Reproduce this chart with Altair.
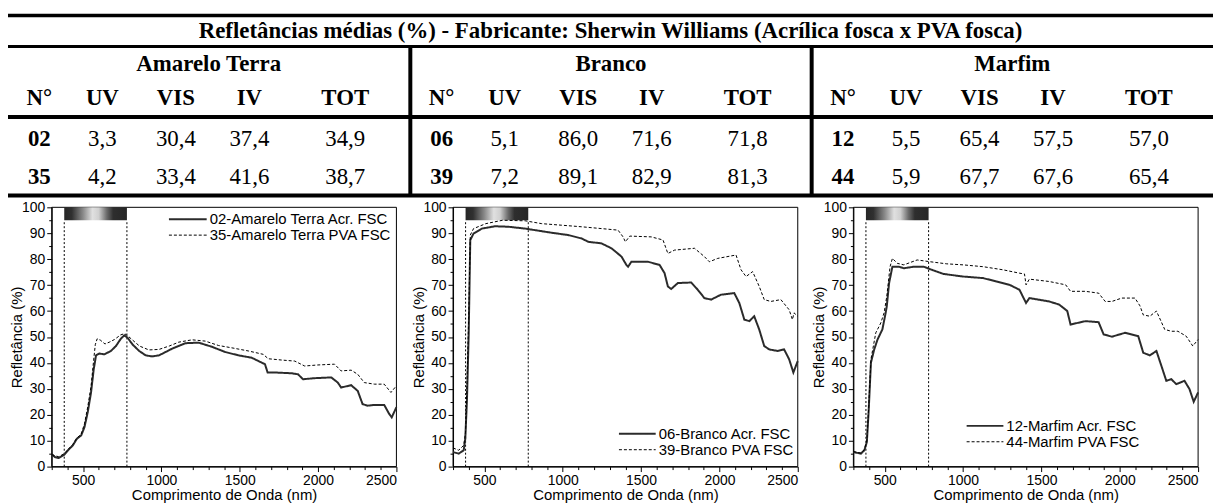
import altair as alt
import pandas as pd

# ---------------- table data ----------------
TITLE = "Refletâncias médias (%) - Fabricante: Sherwin Williams (Acrílica fosca x PVA fosca)"
GROUPS = ["Amarelo Terra", "Branco", "Marfim"]
HEADERS = ["N°", "UV", "VIS", "IV", "TOT"]
SAMPLE_IDS = ["02", "35", "06", "39", "12", "44"]
UV = [3.3, 4.2, 5.1, 7.2, 5.5, 5.9]
VIS = [30.4, 33.4, 86.0, 89.1, 65.4, 67.7]
IV = [37.4, 41.6, 71.6, 82.9, 57.5, 67.6]
TOT = [34.9, 38.7, 71.8, 81.3, 57.0, 65.4]

# ---------------- spectra (wavelength nm, reflectance %) ----------------
LEGEND_LABELS = [
    ["02-Amarelo Terra Acr. FSC", "35-Amarelo Terra PVA FSC"],
    ["06-Branco Acr. FSC", "39-Branco PVA FSC"],
    ["12-Marfim Acr. FSC", "44-Marfim PVA FSC"],
]

AT_ACR_NM = [300, 320, 345, 380, 404, 435, 460, 488, 509, 530, 551, 568, 583, 604, 636, 678, 710, 741, 763, 784,
             816, 858, 900, 940, 985, 1069, 1154, 1238, 1323, 1407, 1492, 1576, 1640, 1661, 1678, 1724, 1830, 1872,
             1904, 1978, 2084, 2126, 2147, 2211, 2253, 2284, 2316, 2359, 2422, 2454, 2470, 2500]
AT_ACR_R = [4.8, 3.7, 3.3, 4.6, 6.3, 8.2, 10.7, 12.0, 15.2, 21.0, 28.6, 37.5, 42.9, 43.6, 43.3, 44.6, 46.5, 49.3,
            50.6, 49.7, 47.1, 44.6, 42.9, 42.5, 42.9, 45.5, 47.6, 47.8, 46.2, 44.2, 42.9, 42.0, 40.1, 39.5, 36.3,
            36.3, 36.0, 35.6, 33.7, 34.1, 34.4, 32.4, 30.5, 31.4, 29.2, 24.1, 23.5, 23.8, 23.8, 20.3, 19.0, 22.9]

AT_PVA_NM = [300, 320, 345, 380, 404, 435, 460, 488, 509, 530, 551, 566, 578, 590, 610, 640, 668, 700, 740, 765,
             790, 816, 860, 920, 985, 1050, 1111, 1196, 1280, 1365, 1450, 1555, 1650, 1682, 1767, 1851, 1914, 1999,
             2105, 2147, 2211, 2253, 2295, 2359, 2422, 2465, 2500]
AT_PVA_R = [4.6, 4.2, 3.8, 5.0, 6.6, 8.6, 11.0, 12.5, 16.5, 23.0, 31.0, 40.0, 47.0, 49.3, 48.8, 47.3, 48.0, 49.0,
            50.8, 51.3, 50.2, 48.8, 46.5, 45.0, 45.2, 46.5, 48.0, 48.9, 48.4, 46.7, 45.8, 44.6, 43.3, 41.6, 41.1,
            40.7, 38.8, 39.2, 39.5, 36.9, 37.2, 35.6, 32.4, 31.8, 31.8, 28.6, 31.2]

BR_ACR_NM = [300, 336, 368, 378, 389, 400, 410, 431, 484, 569, 654, 760, 823, 929, 1035, 1120, 1163, 1247, 1311,
             1375, 1406, 1417, 1438, 1544, 1618, 1650, 1671, 1692, 1735, 1820, 1862, 1904, 1947, 2010, 2095, 2127,
             2159, 2191, 2222, 2254, 2286, 2318, 2371, 2413, 2445, 2472, 2500]
BR_ACR_R = [5.6, 5.0, 6.3, 10.7, 26.0, 51.6, 87.4, 89.9, 91.8, 92.7, 92.5, 91.8, 91.2, 90.2, 89.3, 88.0, 86.7, 86.1,
            84.2, 81.0, 77.8, 77.1, 79.0, 79.0, 77.8, 74.6, 69.5, 68.5, 70.8, 71.0, 68.2, 65.0, 64.4, 66.3, 66.9,
            63.1, 56.7, 56.1, 58.0, 52.9, 46.5, 45.2, 44.6, 45.2, 41.4, 36.3, 40.7]

BR_PVA_NM = [300, 336, 368, 380, 389, 400, 410, 431, 509, 615, 760, 866, 993, 1120, 1247, 1353, 1385, 1400, 1428,
             1565, 1640, 1671, 1714, 1841, 1904, 1936, 1989, 2106, 2138, 2170, 2212, 2254, 2286, 2328, 2392, 2445,
             2466, 2476, 2500]
BR_PVA_R = [7.2, 6.3, 8.2, 13.3, 32.4, 58.0, 89.3, 91.8, 93.7, 95.0, 94.8, 93.7, 93.1, 92.5, 91.8, 91.2, 88.6, 86.7,
            88.9, 88.6, 87.4, 82.2, 83.5, 84.2, 81.0, 79.0, 80.3, 81.6, 75.9, 73.3, 75.2, 69.5, 64.4, 63.7, 64.4,
            60.5, 56.7, 59.3, 58.0]

MF_ACR_NM = [300, 348, 370, 386, 397, 412, 433, 454, 485, 506, 513, 528, 549, 591, 622, 686, 749, 791, 875, 1002,
             1128, 1212, 1297, 1360, 1402, 1423, 1549, 1613, 1655, 1665, 1686, 1781, 1865, 1897, 1950, 2034, 2118,
             2150, 2192, 2234, 2266, 2297, 2329, 2361, 2413, 2445, 2472, 2500]
MF_ACR_R = [5.6, 5.0, 6.3, 9.5, 20.9, 40.1, 45.2, 49.0, 52.9, 59.3, 61.8, 70.8, 77.1, 77.1, 76.5, 77.1, 77.1, 76.1,
            74.3, 73.3, 72.7, 71.4, 70.1, 68.2, 63.1, 65.0, 63.7, 62.5, 60.5, 60.0, 54.8, 56.1, 55.7, 51.0, 50.1,
            51.6, 50.3, 43.9, 42.9, 44.6, 38.8, 33.1, 33.7, 31.8, 33.1, 29.9, 25.0, 28.6]

MF_PVA_NM = [300, 348, 370, 386, 397, 412, 443, 475, 496, 513, 534, 549, 580, 622, 707, 791, 896, 1002, 1128, 1255,
             1360, 1392, 1402, 1423, 1549, 1655, 1686, 1781, 1865, 1907, 1950, 2013, 2097, 2129, 2150, 2192, 2234,
             2287, 2329, 2371, 2424, 2466, 2500]
MF_PVA_R = [5.8, 5.2, 6.6, 10.0, 22.0, 41.4, 51.6, 55.4, 59.3, 65.6, 77.1, 80.3, 78.4, 77.8, 79.7, 79.0, 78.2, 77.8,
            77.1, 75.9, 74.6, 74.3, 70.1, 72.3, 71.4, 70.1, 67.6, 67.6, 66.9, 63.7, 63.7, 65.0, 65.0, 62.0, 58.5,
            58.0, 60.0, 52.9, 52.2, 52.2, 50.3, 46.5, 49.0]

VIS_BAND = [380, 780]          # visible band limits (nm)
BAR_RANGE = [95, 100]          # spectrum bar (reflectance units)
X_DOMAIN = [300, 2500]
Y_DOMAIN = [0, 100]
X_TICKS = [500, 1000, 1500, 2000, 2500]
X_MINOR = [v for v in range(300, 2500, 100) if v % 500 != 0]
Y_TICKS = list(range(0, 101, 10))
Y_MINOR = list(range(5, 100, 10))

# ---------------- layout / style ----------------
W, H = 1213, 495
PX0 = [44, 448, 851]
PW = 347
PY_TOP, PY_BOT = 199, 460
SANS = "Liberation Sans"
SERIF = "Liberation Serif"
PANEL_X0 = [0, 405, 809]
COL_W = [63, 64, 84, 64, 129]
PANEL_W = 404
ROW_Y = {"title": 22, "group": 55, "header": 89, "r0": 130, "r1": 169}
LEG = [(162, 200, 203, 211), (615, 652, 655, 427), (965, 1002, 1005, 419)]
LEG_ROW = 16
GRAD = {"gradient": "linear", "x1": 0, "y1": 0, "x2": 1, "y2": 0,
        "stops": [{"offset": 0.0, "color": "#262626"}, {"offset": 0.12, "color": "#303030"},
                  {"offset": 0.3, "color": "#8a8a8a"}, {"offset": 0.45, "color": "#e0e0e0"},
                  {"offset": 0.55, "color": "#d0d0d0"}, {"offset": 0.68, "color": "#6a6a6a"},
                  {"offset": 0.78, "color": "#2e2e2e"}, {"offset": 1.0, "color": "#262626"}]}

KINDS = ["Acr", "PVA"]
dash_enc = alt.StrokeDash("kind:N", scale=alt.Scale(domain=KINDS, range=[[1, 0], [3, 2]]), legend=None)
color_enc = alt.Color("kind:N", scale=alt.Scale(domain=KINDS, range=["#2b2b2b", "#000000"]), legend=None)
width_enc = alt.StrokeWidth("kind:N", scale=alt.Scale(domain=KINDS, range=[2.0, 1.0]), legend=None)


def fmt(v):
    return f"{v:.1f}".replace(".", ",")


def xsc(i):
    return alt.Scale(domain=X_DOMAIN, range=[PX0[i], PX0[i] + PW], nice=False, zero=False)


def ysc():
    return alt.Scale(domain=Y_DOMAIN, range=[PY_BOT, PY_TOP], nice=False, zero=False)


AXIS_STYLE = dict(grid=False, labelFont=SANS, labelFontSize=14, labelColor="#000", tickColor="#000",
                  domainColor="#000", titleFont=SANS, titleFontSize=15, titleFontWeight="normal",
                  titleColor="#000")

spectra = [
    (AT_ACR_NM, AT_ACR_R, AT_PVA_NM, AT_PVA_R),
    (BR_ACR_NM, BR_ACR_R, BR_PVA_NM, BR_PVA_R),
    (MF_ACR_NM, MF_ACR_R, MF_PVA_NM, MF_PVA_R),
]

layers = []
for i, (an, ar, pn, pr) in enumerate(spectra):
    # frame + minor ticks
    frame_df = pd.DataFrame({"x0": [X_DOMAIN[0]], "x1": [X_DOMAIN[1]], "y0": [Y_DOMAIN[0]], "y1": [Y_DOMAIN[1]]})
    layers.append(
        alt.Chart(frame_df).mark_rect(fill="#ffffff", fillOpacity=0, stroke="#000", strokeWidth=1).encode(
            x=alt.X("x0:Q", scale=xsc(i), axis=alt.Axis(orient="bottom", offset=PY_BOT - H, values=X_MINOR,
                                                         labels=False, domain=False, tickSize=3, title=None,
                                                         **AXIS_STYLE)),
            x2="x1:Q",
            y=alt.Y("y0:Q", scale=ysc(), axis=alt.Axis(orient="left", offset=-PX0[i], values=Y_MINOR,
                                                       labels=False, domain=False, tickSize=3, title=None,
                                                       **AXIS_STYLE)),
            y2="y1:Q",
        )
    )
    # visible-band dashed limits
    band_df = pd.DataFrame({"nm": VIS_BAND, "y0": [Y_DOMAIN[0]] * 2, "y1": [BAR_RANGE[0]] * 2})
    layers.append(
        alt.Chart(band_df).mark_rule(color="#000", strokeWidth=1, strokeDash=[2, 2]).encode(
            x=alt.X("nm:Q", scale=xsc(i), axis=None),
            y=alt.Y("y0:Q", scale=ysc(), axis=None),
            y2="y1:Q",
        )
    )
    # spectrum bar
    bar_df = pd.DataFrame({"x0": [VIS_BAND[0]], "x1": [VIS_BAND[1]], "y0": [BAR_RANGE[0]], "y1": [BAR_RANGE[1]]})
    layers.append(
        alt.Chart(bar_df).mark_rect(fill=GRAD).encode(
            x=alt.X("x0:Q", scale=xsc(i), axis=None), x2="x1:Q",
            y=alt.Y("y0:Q", scale=ysc(), axis=None), y2="y1:Q",
        )
    )
    # spectra lines with main axes
    df = pd.concat([
        pd.DataFrame({"nm": an, "r": ar, "kind": "Acr"}),
        pd.DataFrame({"nm": pn, "r": pr, "kind": "PVA"}),
    ], ignore_index=True)
    layers.append(
        alt.Chart(df).mark_line().encode(
            x=alt.X("nm:Q", scale=xsc(i),
                    axis=alt.Axis(orient="bottom", offset=PY_BOT - H, values=X_TICKS, format="d",
                                  tickSize=5, labelPadding=2, title="Comprimento de Onda (nm)", titleY=21,
                                  **AXIS_STYLE)),
            y=alt.Y("r:Q", scale=ysc(),
                    axis=alt.Axis(orient="left", offset=-PX0[i], values=Y_TICKS, format="d",
                                  tickSize=5, labelPadding=2, title="Refletância (%)", titleX=-27,
                                  **AXIS_STYLE)),
            strokeDash=dash_enc, color=color_enc, strokeWidth=width_enc,
            order=alt.Order("nm:Q"),
        )
    )
    # legend
    lx0, lx1, tx, ly = LEG[i]
    leg_df = pd.DataFrame({"x0": [lx0, lx0], "x1": [lx1, lx1], "tx": [tx, tx],
                           "y": [ly, ly + LEG_ROW], "kind": KINDS, "label": LEGEND_LABELS[i]})
    layers.append(
        alt.Chart(leg_df).mark_rule().encode(
            x=alt.X("x0:Q", scale=None, axis=None), x2="x1:Q",
            y=alt.Y("y:Q", scale=None, axis=None),
            strokeDash=dash_enc, color=color_enc, strokeWidth=width_enc,
        )
    )
    layers.append(
        alt.Chart(leg_df).mark_text(font=SANS, fontSize=15, align="left", baseline="middle", color="#000").encode(
            x=alt.X("tx:Q", scale=None, axis=None),
            y=alt.Y("y:Q", scale=None, axis=None),
            text="label:N",
        )
    )

# ---------------- table ----------------
centers = []
acc = 0
for w in COL_W:
    centers.append(acc + w / 2)
    acc += w

title_df = pd.DataFrame({"x": [W / 2], "y": [ROW_Y["title"]], "t": [TITLE]})
group_df = pd.DataFrame({"x": [p + PANEL_W / 2 for p in PANEL_X0], "y": [ROW_Y["group"]] * 3, "t": GROUPS})
hdr_rows = []
for p in PANEL_X0:
    for c, h in enumerate(HEADERS):
        hdr_rows.append({"x": p + centers[c], "y": ROW_Y["header"], "t": h})
hdr_df = pd.DataFrame(hdr_rows)
id_rows, val_rows = [], []
for k, sid in enumerate(SAMPLE_IDS):
    p = PANEL_X0[k // 2]
    y = ROW_Y["r0"] if k % 2 == 0 else ROW_Y["r1"]
    id_rows.append({"x": p + centers[0], "y": y, "t": sid})
    for c, arr in enumerate([UV, VIS, IV, TOT]):
        val_rows.append({"x": p + centers[c + 1], "y": y, "t": fmt(arr[k])})
id_df = pd.DataFrame(id_rows)
val_df = pd.DataFrame(val_rows)


def text_layer(d, size, weight):
    return alt.Chart(d).mark_text(font=SERIF, fontSize=size, fontWeight=weight, align="center",
                                  baseline="middle", color="#000").encode(
        x=alt.X("x:Q", scale=None, axis=None), y=alt.Y("y:Q", scale=None, axis=None), text="t:N")


layers += [
    text_layer(title_df, 23, "bold"),
    text_layer(group_df, 23, "bold"),
    text_layer(hdr_df, 23, "bold"),
    text_layer(id_df, 23, "bold"),
    text_layer(val_df, 23, "normal"),
]

one = pd.DataFrame({"a": [0]})
for yv, sw in [(6, 3.5), (37, 3), (108, 4), (187, 4)]:
    layers.append(alt.Chart(one).mark_rule(color="#000", strokeWidth=sw).encode(
        x=alt.value(0), x2=alt.value(W), y=alt.value(yv)))
vert_df = pd.DataFrame({"x": PANEL_X0[1:]})
layers.append(alt.Chart(vert_df).mark_rule(color="#000", strokeWidth=4).encode(
    x=alt.X("x:Q", scale=None, axis=None), y=alt.value(37), y2=alt.value(187)))

chart = alt.layer(*layers).resolve_scale(x="independent", y="independent").resolve_axis(
    x="independent", y="independent"
).properties(
    width=W, height=H, autosize=alt.AutoSizeParams(type="none"),
    padding={"left": 0, "top": 0, "right": 0, "bottom": 0},
).configure_view(stroke=None)

chart.save("out.html", embed_options={"renderer": "svg", "actions": False})
